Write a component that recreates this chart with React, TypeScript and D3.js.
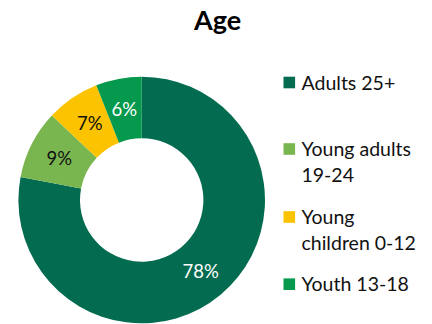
import React from "react";
import * as d3 from "d3";

const categories = ["Adults 25+", "Young adults 19-24", "Young children 0-12", "Youth 13-18"];
const values = [78, 9, 7, 6];
const legendLines = [["Adults 25+"], ["Young adults", "19-24"], ["Young", "children 0-12"], ["Youth 13-18"]];
const colors = ["#036B4F", "#7AB650", "#FBC300", "#04994C"];
const labelColors = ["#FFFFFF", "#111111", "#111111", "#FFFFFF"];
const title = "Age";

const W = 432;
const H = 324;
const cx = 141.7;
const cy = 200;
const outerR = 123.3;
const innerR = 61.7;
const legendY = [82.5, 149, 217, 284.2];
const font = "Lato, 'Open Sans', sans-serif";

export default function App() {
  const pie = d3.pie<number>().sort(null).value((d) => d)(values);
  const arc = d3.arc<d3.PieArcDatum<number>>().innerRadius(innerR).outerRadius(outerR);
  const total = d3.sum(values);
  return (
    <svg
      width={W}
      height={H}
      style={{ position: "absolute", left: 0, top: 0, display: "block", background: "#fff" }}
    >
      <text x={217.5} y={30} textAnchor="middle" fontFamily={font} fontWeight={700} fontSize={27} fill="#000">
        {title}
      </text>
      <g transform={`translate(${cx},${cy})`}>
        {pie.map((p, i) => (
          <path key={categories[i]} d={arc(p) || ""} fill={colors[i]} />
        ))}
        {pie.map((p, i) => {
          const [x, y] = arc.centroid(p);
          return (
            <text
              key={"l" + i}
              x={x}
              y={y}
              dy="0.36em"
              textAnchor="middle"
              fontFamily={font}
              fontSize={18.5}
              fill={labelColors[i]}
            >
              {Math.round((values[i] / total) * 100) + "%"}
            </text>
          );
        })}
      </g>
      <g>
        {legendLines.map((lines, i) => (
          <g key={"lg" + i}>
            <rect x={283.5} y={legendY[i] - 5.8} width={11.6} height={11.6} fill={colors[i]} />
            {lines.map((t, j) => (
              <text
                key={j}
                x={301.5}
                y={legendY[i] + j * 25.5}
                dy="0.36em"
                fontFamily={font}
                fontSize={19.5}
                fill="#111"
              >
                {t}
              </text>
            ))}
          </g>
        ))}
      </g>
    </svg>
  );
}
